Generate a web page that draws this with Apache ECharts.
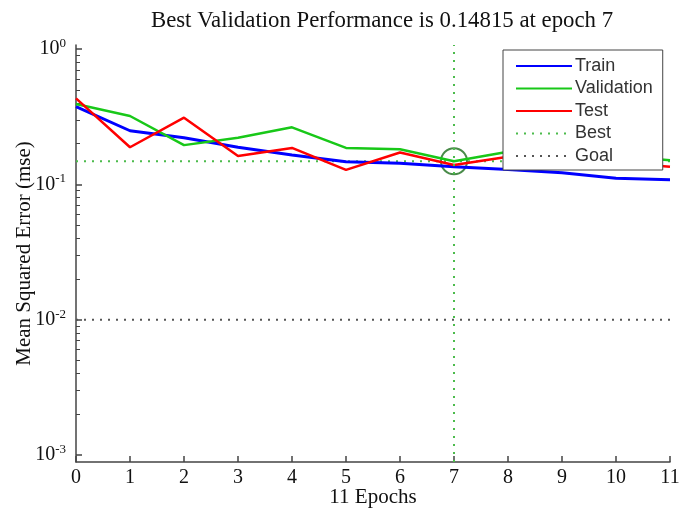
<!DOCTYPE html>
<html>
<head>
<meta charset="utf-8">
<script src="https://cdn.jsdelivr.net/npm/echarts@6/dist/echarts.min.js"></script>
<style>
html,body{margin:0;padding:0;background:#fff;}
#perf_con{width:679px;height:510px;}
</style>
</head>
<body>
<div id="perf_con"></div>
<script>
// epochs and mse per set
var epochs = [0,1,2,3,4,5,6,7,8,9,10,11];
var trainMse = [0.375,0.249,0.221,0.188,0.165,0.147,0.143,0.135,0.129,0.122,0.111,0.108];
var validMse = [0.392,0.320,0.195,0.221,0.264,0.186,0.182,0.14815,0.174,0.170,0.163,0.151];
var testMse  = [0.432,0.188,0.311,0.162,0.186,0.128,0.172,0.139,0.160,0.155,0.145,0.135];
var bestEpoch = 7;
var bestValue = 0.14815;
var goalValue = 0.01;
var yMajor = [-3,-2,-1,0];

var lg = function(v){ return Math.log10(v); };
var yMin = -3.052, yMax = 0.03;

// minor log ticks 2..9 x 10^k
var yMinor = [];
for (var e = -3; e < 0; e++) {
    for (var k = 2; k <= 9; k++) {
        yMinor.push(Math.log10(k) + e);
    }
}

function pairs(vals){
    return epochs.map(function(x, i){ return [x, lg(vals[i])]; });
}

var serif = '"Liberation Serif", "DejaVu Serif", serif';
var sans = '"Liberation Sans", Arial, sans-serif';

var chart = echarts.init(document.getElementById('perf_con'));
var option = {
    animation: false,
    backgroundColor: '#fff',
    title: {
        text: 'Best Validation Performance is 0.14815 at epoch 7',
        left: 377,
        top: 5,
        textAlign: 'center',
        textStyle: {fontFamily: serif, fontSize: 22.8, fontWeight: 'normal', color: '#111'}
    },
    grid: {left: 76, right: 9, top: 45, bottom: 48, outerBoundsMode: 'none', containLabel: false},
    legend: {
        orient: 'vertical',
        left: 503,
        top: 50,
        padding: [7, 10, 5, 12],
        itemWidth: 56,
        itemHeight: 14,
        itemGap: 4.5,
        backgroundColor: '#fff',
        borderColor: '#444',
        borderWidth: 1,
        itemStyle: {opacity: 0},
        textStyle: {fontFamily: sans, fontSize: 18, color: '#333', padding: [0,0,0,-2]},
        data: ['Train','Validation','Test','Best','Goal']
    },
    xAxis: {
        type: 'value',
        min: 0,
        max: 11,
        interval: 1,
        name: '11 Epochs',
        nameLocation: 'middle',
        nameGap: 25,
        nameMoveOverlap: false,
        nameTextStyle: {fontFamily: serif, fontSize: 21, color: '#111'},
        axisLine: {onZero: false, lineStyle: {color: '#444', width: 1.5}},
        axisTick: {inside: true, length: 6, lineStyle: {color: '#444', width: 1.5}},
        axisLabel: {fontFamily: serif, fontSize: 20, color: '#111', margin: 6},
        splitLine: {show: false}
    },
    yAxis: [{
        type: 'value',
        min: yMin,
        max: yMax,
        name: 'Mean Squared Error (mse)',
        nameLocation: 'middle',
        nameGap: 41,
        nameMoveOverlap: false,
        nameTextStyle: {fontFamily: serif, fontSize: 21, color: '#111'},
        axisLine: {show: true, onZero: false, lineStyle: {color: '#444', width: 1.5}},
        axisTick: {show: true, inside: true, length: 6, customValues: yMajor, lineStyle: {color: '#444', width: 1.5}},
        axisLabel: {
            customValues: yMajor,
            margin: 10,
            formatter: function(v){ return '{b|10}{s|' + Math.round(v) + '}'; },
            rich: {
                b: {fontFamily: serif, fontSize: 20, color: '#111'},
                s: {fontFamily: serif, fontSize: 13, color: '#111', padding: [0,0,11,0]}
            }
        },
        splitLine: {show: false}
    }, {
        type: 'value',
        min: yMin,
        max: yMax,
        position: 'left',
        axisLine: {show: false, onZero: false},
        axisTick: {show: true, inside: true, length: 4, customValues: yMinor, lineStyle: {color: '#444', width: 1}},
        axisLabel: {show: false},
        splitLine: {show: false}
    }],
    series: [
        {
            name: 'Goal', type: 'line', symbol: 'none', silent: true,
            lineStyle: {color: '#555', width: 2, type: [2, 6]},
            itemStyle: {color: '#555'},
            data: [[0, lg(goalValue)], [11, lg(goalValue)]]
        },
        {
            name: 'Best', type: 'line', symbol: 'none', silent: true,
            lineStyle: {color: '#4cbb4c', width: 2, type: [2, 6]},
            itemStyle: {color: '#4cbb4c'},
            data: [[0, lg(bestValue)], [11, lg(bestValue)]],
            markLine: {
                silent: true, symbol: 'none', label: {show: false},
                lineStyle: {color: '#4cbb4c', width: 2, type: [2, 6]},
                data: [{xAxis: bestEpoch}]
            }
        },
        {
            name: 'Train', type: 'line', symbol: 'none',
            lineStyle: {color: '#0000ff', width: 3},
            itemStyle: {color: '#0000ff'},
            data: pairs(trainMse)
        },
        {
            name: 'Validation', type: 'line', symbol: 'none',
            lineStyle: {color: '#18c818', width: 2.5},
            itemStyle: {color: '#18c818'},
            data: pairs(validMse)
        },
        {
            name: 'Test', type: 'line', symbol: 'none',
            lineStyle: {color: '#ff0000', width: 2.5},
            itemStyle: {color: '#ff0000'},
            data: pairs(testMse)
        },
        {
            name: 'bestMark', type: 'scatter', silent: true,
            symbol: 'circle', symbolSize: 26,
            itemStyle: {color: 'rgba(0,0,0,0)', borderColor: '#1c6e1c', borderWidth: 2},
            data: [[bestEpoch, lg(bestValue)]]
        }
    ]
};
chart.setOption(option);
window.addEventListener('resize', function () {
    chart.resize();
});
</script>
</body>
</html>
